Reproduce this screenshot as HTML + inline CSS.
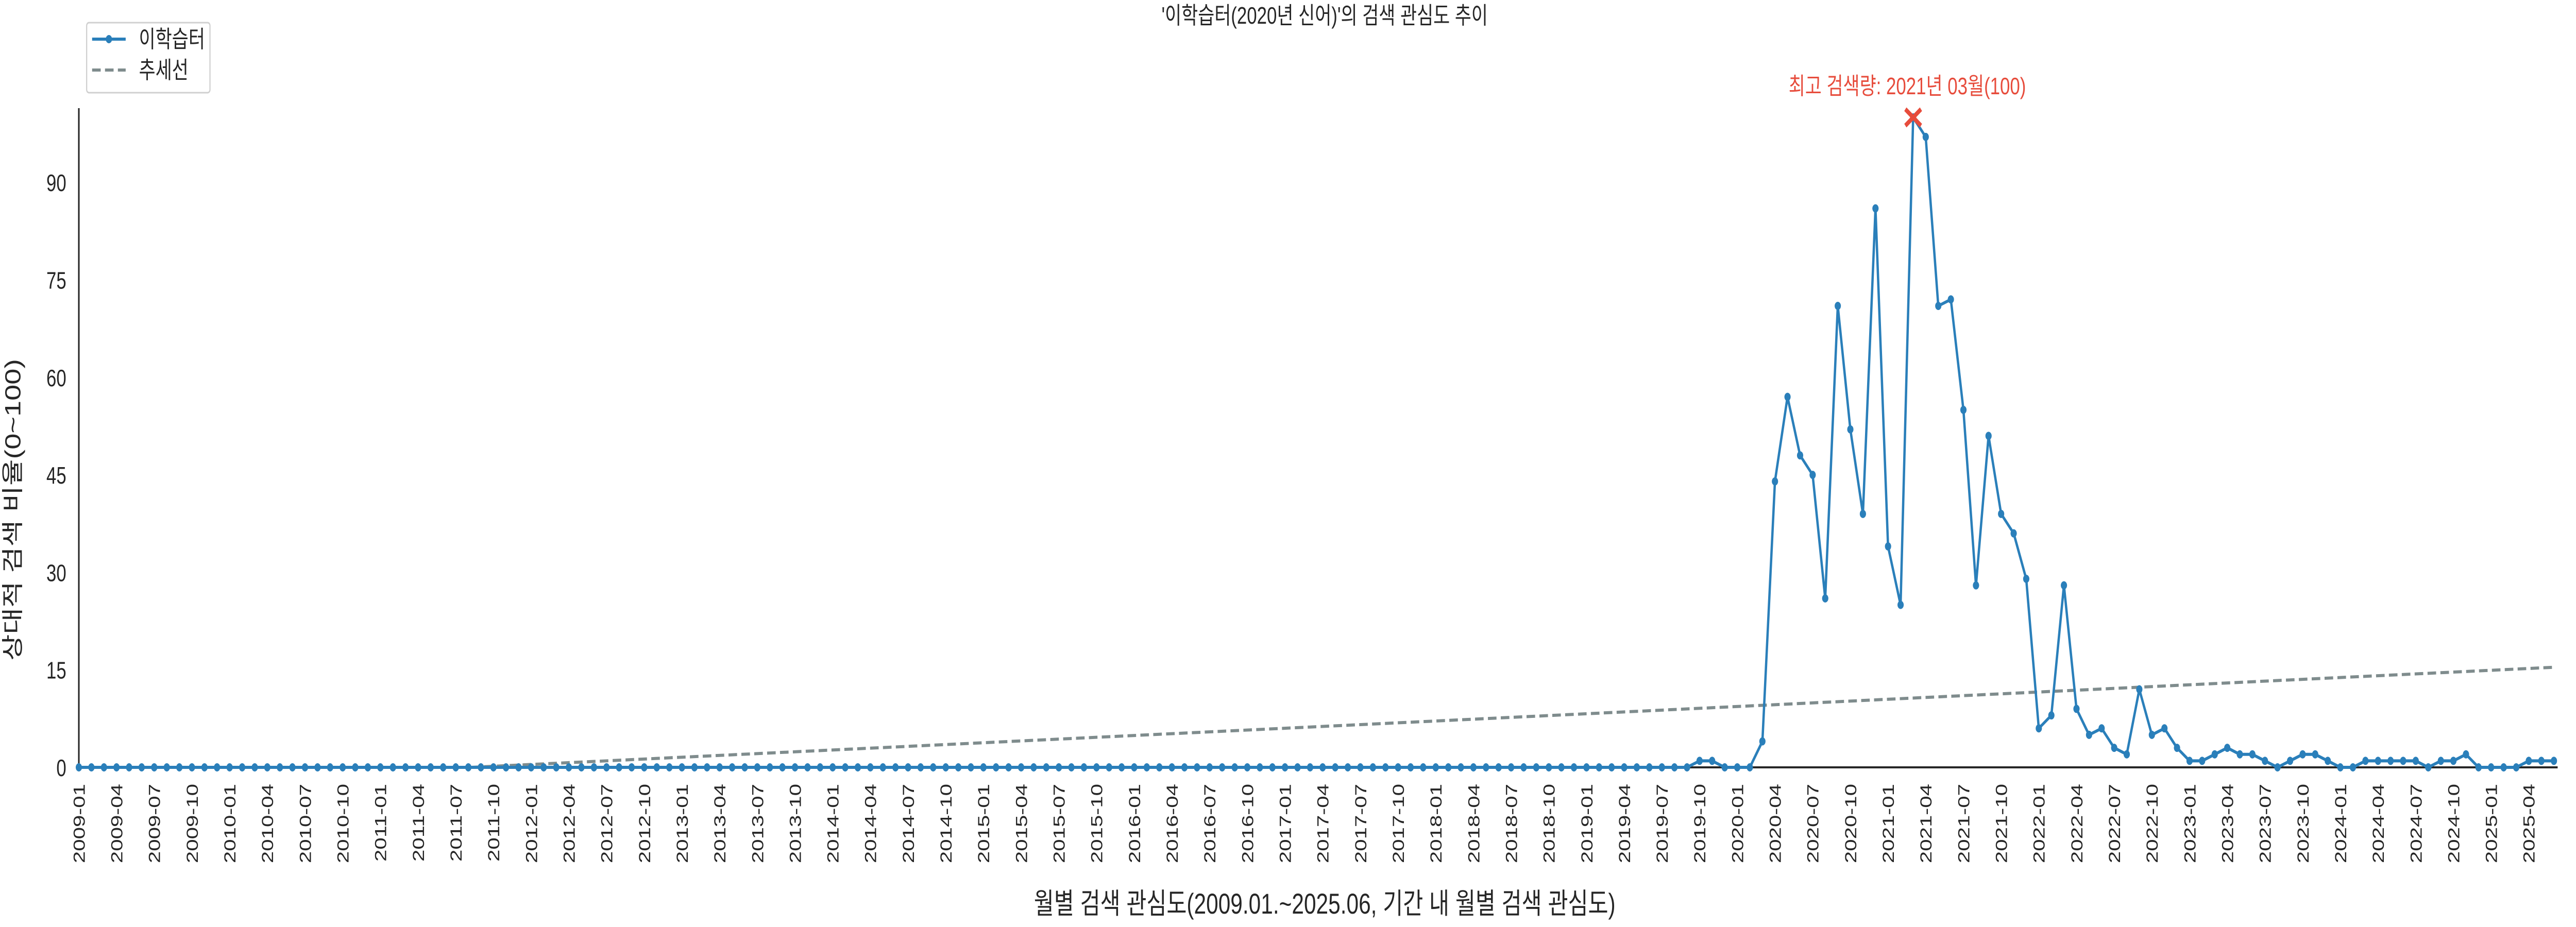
<!DOCTYPE html>
<html><head><meta charset="utf-8">
<style>
html,body{margin:0;padding:0;background:#fff;width:100%;height:100%;overflow:hidden;}
svg{display:block;width:100vw;height:100vh;font-family:"Liberation Sans","Noto Sans CJK KR",sans-serif;}
</style></head>
<body>
<svg id="chart" viewBox="0 0 6600 1800" preserveAspectRatio="none" xmlns="http://www.w3.org/2000/svg">
  <text x="3394" y="46" font-size="46" text-anchor="middle" fill="#262626">'이학습터(2020년 신어)'의 검색 관심도 추이</text>
  <g id="axes"></g>
  <g id="series"></g>
  <text transform="translate(52,990) rotate(-90)" font-size="56" text-anchor="middle" fill="#262626">상대적 검색 비율(0~100)</text>
  <text x="3394" y="1774" font-size="56" text-anchor="middle" fill="#262626">월별 검색 관심도(2009.01.~2025.06, 기간 내 월별 검색 관심도)</text>
  <g>
    <rect x="222" y="44" width="316" height="136" rx="6" fill="#fff" stroke="#d0d0d0" stroke-width="3"/>
    <g>
      <line x1="236" y1="76" x2="322" y2="76" stroke="#2a7fba" stroke-width="6"/>
      <circle cx="279" cy="76" r="8" fill="#2a7fba"/>
      <text x="356" y="92" font-size="46" fill="#262626">이학습터</text>
    </g>
    <g>
      <line x1="236" y1="136" x2="322" y2="136" stroke="#7f8c8d" stroke-width="6" stroke-dasharray="22,11"/>
      <text x="356" y="152" font-size="46" fill="#262626">추세선</text>
    </g>
  </g>
</svg>
<script>
const values = [
0,0,0,0,0,0,0,0,0,0,0,0, 0,0,0,0,0,0,0,0,0,0,0,0, 0,0,0,0,0,0,0,0,0,0,0,0,
0,0,0,0,0,0,0,0,0,0,0,0, 0,0,0,0,0,0,0,0,0,0,0,0, 0,0,0,0,0,0,0,0,0,0,0,0,
0,0,0,0,0,0,0,0,0,0,0,0, 0,0,0,0,0,0,0,0,0,0,0,0, 0,0,0,0,0,0,0,0,0,0,0,0,
0,0,0,0,0,0,0,0,0,0,0,0,
0,0,0,0,0,0,0,0,0,1,1,0,
0,0,4,44,57,48,45,26,71,52,39,86,
34,25,100,97,71,72,55,28,51,39,36,29,
6,8,28,9,5,6,3,2,12,5,6,3,
1,1,2,3,2,2,1,0,1,2,2,1,
0,0,1,1,1,1,1,0,1,1,2,0,
0,0,0,1,1,1
];
const startYear = 2009;
const yTicks = [0,15,30,45,60,75,90];
const trendEnds = [-2.9, 15.4];
const peakLabel = ['최고 검색량: 2021년 03월(100)'];

const NS='http://www.w3.org/2000/svg';
const X0=202, DX=32.19, Y0=1490, DY=12.62;
const xs = i => X0 + i*DX;
const ys = v => Y0 - v*DY;
function mk(tag, attrs, parent){const e=document.createElementNS(NS,tag);for(const k in attrs)e.setAttribute(k,attrs[k]);parent.appendChild(e);return e;}
const axes=document.getElementById('axes'), series=document.getElementById('series');

const ls=mk('line',{x1:X0,y1:210,x2:X0,y2:Y0,stroke:'#262626','stroke-width':4},axes);


const bs=mk('line',{x1:X0,y1:Y0,x2:6553,y2:Y0,stroke:'#262626','stroke-width':4},axes);



yTicks.forEach(t=>{
  const e=mk('text',{x:170,y:ys(t)+17,'font-size':46,'text-anchor':'end',fill:'#262626'},axes);
  e.textContent=t;
  
  
});
for(let i=0;i<values.length;i+=3){
  const y=startYear+Math.floor(i/12), m=i%12+1;
  const lbl=y+'-'+(m<10?'0':'')+m;
  const e=mk('text',{transform:`translate(${xs(i)+15},1522) rotate(-90)`,'font-size':42,'text-anchor':'end',fill:'#262626'},axes);
  e.textContent=lbl;
  
  
}

const n=values.length-1;
const tv=i=>trendEnds[0]+(trendEnds[1]-trendEnds[0])*i/n;
let iz=-trendEnds[0]/(trendEnds[1]-trendEnds[0])*n; if(iz<0) iz=0;
const tr=mk('line',{x1:xs(iz),y1:ys(Math.max(0,tv(iz))),x2:xs(n),y2:ys(tv(n)),stroke:'#7f8c8d','stroke-width':6,'stroke-dasharray':'22,11'},series);



const pts=values.map((v,i)=>xs(i).toFixed(1)+','+ys(v).toFixed(1)).join(' ');
const pl=mk('polyline',{points:pts,fill:'none',stroke:'#2a7fba','stroke-width':6,'stroke-linejoin':'round'},series);


values.forEach((v,i)=>{
  const c=mk('circle',{cx:xs(i),cy:ys(v),r:8,fill:'#2a7fba'},series);
  
  
});

let pi=0; values.forEach((v,i)=>{if(v>values[pi])pi=i;});
const px=xs(pi), py=ys(values[pi]);
const pk=mk('path',{d:`M${px-20},${py-16}L${px+20},${py+16}M${px-20},${py+16}L${px+20},${py-16}`,stroke:'#e74c3c','stroke-width':9},series);


const pt=mk('text',{x:px-15,y:py-45,'font-size':46,'text-anchor':'middle',fill:'#e74c3c'},series);
pt.textContent=peakLabel[0];


</script>
</body></html>
